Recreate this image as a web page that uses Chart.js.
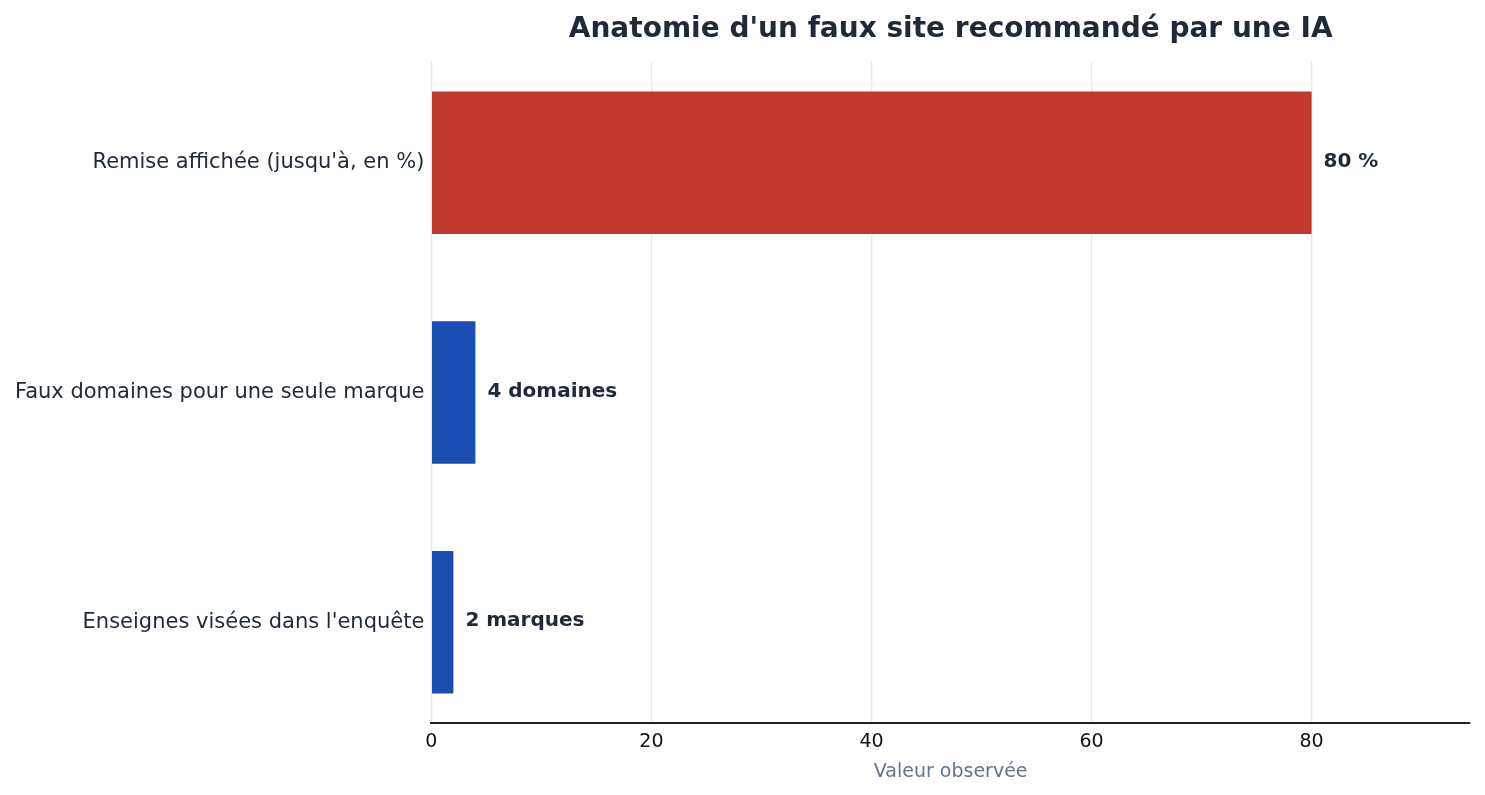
<!DOCTYPE html>
<html>
<head>
<meta charset="utf-8">
<script src="https://cdn.jsdelivr.net/npm/chart.js@4"></script>
<style>
  html, body { margin: 0; padding: 0; background: #fff; }
  #wrap { width: 1485px; height: 795px; }
</style>
</head>
<body>
<div id="wrap"><canvas id="chart"></canvas></div>
<script>
// data
const categories = [
  "Remise affichée (jusqu'à, en %)",
  "Faux domaines pour une seule marque",
  "Enseignes visées dans l'enquête",
];
const values = [80, 4, 2];
const valueLabels = ["80 %", "4 domaines", "2 marques"];
const barColors = ["#c0392b", "#1a4db1", "#1a4db1"];
const xTicks = [0, 20, 40, 60, 80];

const FONT = "DejaVu Sans";
Chart.defaults.font.family = FONT;

//--------------------------------------------------------
// text at the end of each bar
const endLabels = {
  id: "endLabels",
  afterDatasetsDraw(chart) {
    const ctx = chart.ctx;
    const meta = chart.getDatasetMeta(0);
    ctx.save();
    ctx.font = "bold 20px " + FONT;
    ctx.fillStyle = "#1f2937";
    ctx.textAlign = "left";
    ctx.textBaseline = "middle";
    meta.data.forEach((bar, i) => {
      ctx.fillText(valueLabels[i], bar.x + 12, bar.y - 1);
    });
    ctx.restore();
  },
};

const ctx = document.getElementById("chart");
const chart = new Chart(ctx, {
  type: "bar",
  data: {
    datasets: [
      {
        data: values.map((v, i) => ({ x: v, y: i })),
        backgroundColor: barColors,
        categoryPercentage: 1,
        barPercentage: 0.62,
      },
    ],
  },
  options: {
    indexAxis: "y",
    responsive: true,
    maintainAspectRatio: false,
    animation: false,
    layout: { padding: { left: 8, right: 15, top: 8, bottom: 12 } },
    plugins: {
      legend: { display: false },
      tooltip: { enabled: false },
      title: {
        display: true,
        fullSize: false,
        text: "Anatomie d'un faux site recommandé par une IA",
        color: "#1f2937",
        font: { size: 28, weight: "bold" },
        padding: { top: 5, bottom: 15 },
      },
    },
    scales: {
      x: {
        type: "linear",
        min: 0,
        max: 94.4,
        afterBuildTicks: (s) => {
          s.ticks = xTicks.map((v) => ({ value: v }));
        },
        grid: { color: "#e5e7eb", lineWidth: 1.3, drawTicks: false },
        border: { color: "#222", width: 2 },
        ticks: { color: "#111", font: { size: 19 }, padding: 7 },
        title: {
          display: true,
          text: "Valeur observée",
          color: "#64748b",
          font: { size: 19 },
          padding: { top: 0, bottom: 0 },
        },
      },
      y: {
        type: "linear",
        reverse: true,
        offset: false,
        min: -0.44,
        max: 2.44,
        afterBuildTicks: (s) => {
          s.ticks = categories.map((c, i) => ({ value: i }));
        },
        grid: { display: false, drawTicks: false, offset: false },
        border: { display: false },
        ticks: {
          color: "#1f2937",
          font: { size: 21 },
          padding: 7,
          callback: (v) => categories[v],
        },
      },
    },
  },
  plugins: [endLabels],
});
</script>
</body>
</html>
